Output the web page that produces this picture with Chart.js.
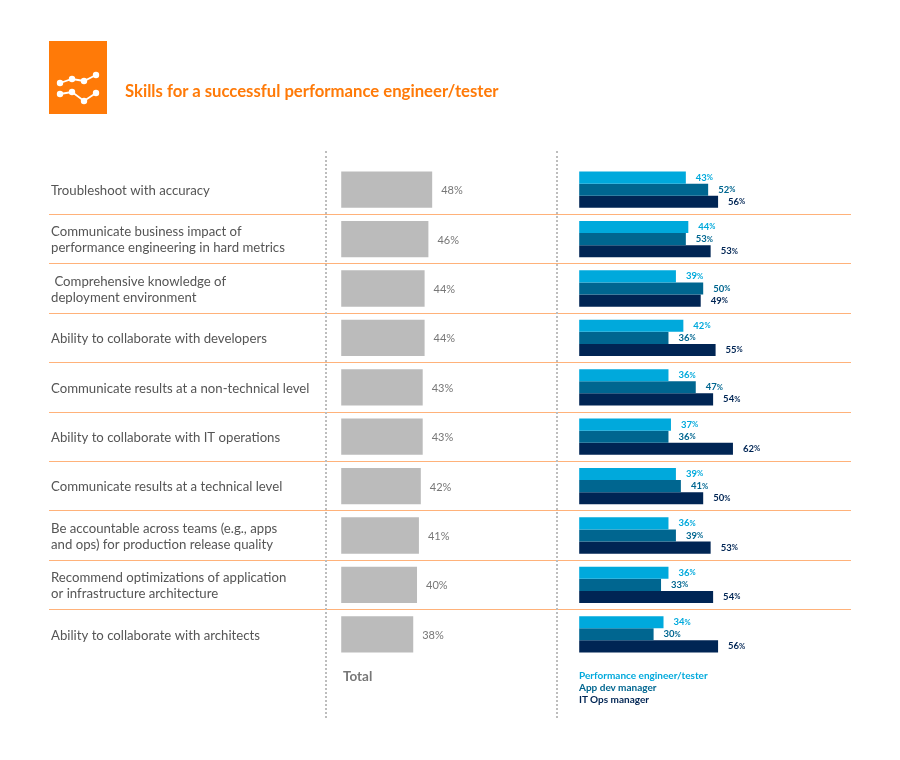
<!DOCTYPE html>
<html lang="en">
<head>
    <meta charset="UTF-8">
    <title>Skills for a successful performance engineer/tester</title>
    <script src="https://cdn.jsdelivr.net/npm/chart.js@4"></script>
    <style>
        body {
            margin: 0;
            background-color: #ffffff;
            font-family: Lato, Arial, sans-serif;
        }
        #page {
            position: relative;
            width: 900px;
            height: 760px;
            overflow: hidden;
        }
        #skillsChart {
            position: absolute;
            left: 0;
            top: 0;
        }
        #icon {
            position: absolute;
            left: 49px;
            top: 41px;
        }
        h1 {
            position: absolute;
            left: 125px;
            top: 81px;
            margin: 0;
            font-size: 16.7px;
            line-height: 20px;
            font-weight: 700;
            color: #ff7a08;
            white-space: nowrap;
        }
        .divider {
            position: absolute;
            top: 151px;
            height: 567px;
            border-left: 2px dotted #bdbdbd;
        }
        #totalLabel {
            position: absolute;
            left: 343px;
            top: 668px;
            font-size: 13.5px;
            line-height: 16px;
            font-weight: 700;
            color: #777777;
        }
        #legend {
            position: absolute;
            left: 579px;
            top: 669px;
            font-size: 10px;
            line-height: 12px;
            font-weight: 700;
        }
    </style>
</head>
<body>
    <div id="page">
        <canvas id="skillsChart" width="900" height="760"></canvas>
        <svg id="icon" width="58" height="73" viewBox="0 0 58 73">
            <rect width="58" height="73" fill="#ff7a08"/>
            <g fill="none" stroke="#ffffff" stroke-width="1.8">
                <polyline points="11,42 23,38 35,40 47,34"/>
                <polyline points="11,53 23,51 35,60 47,52"/>
            </g>
            <g fill="#ffffff">
                <circle cx="11" cy="42" r="3.2"/><circle cx="23" cy="38" r="3.2"/>
                <circle cx="35" cy="40" r="3.2"/><circle cx="47" cy="34" r="3.2"/>
                <circle cx="11" cy="53" r="3.2"/><circle cx="23" cy="51" r="3.2"/>
                <circle cx="35" cy="60" r="3.2"/><circle cx="47" cy="52" r="3.2"/>
            </g>
        </svg>
        <h1>Skills for a successful performance engineer/tester</h1>
        <div class="divider" style="left: 325px;"></div>
        <div class="divider" style="left: 556px;"></div>
        <div id="totalLabel">Total</div>
        <div id="legend">
            <div style="color: #00a9dc;">Performance engineer/tester</div>
            <div style="color: #006690;">App dev manager</div>
            <div style="color: #002554;">IT Ops manager</div>
        </div>
    </div>

    <script>
const skills = [
    'Troubleshoot with accuracy',
    ['Communicate business impact of', 'performance engineering in hard metrics'],
    [' Comprehensive knowledge of', 'deployment environment'],
    'Ability to collaborate with developers',
    'Communicate results at a non-technical level',
    'Ability to collaborate with IT operations',
    'Communicate results at a technical level',
    ['Be accountable across teams (e.g., apps', 'and ops) for production release quality'],
    ['Recommend optimizations of application', 'or infrastructure architecture'],
    'Ability to collaborate with architects'
];
const totalValues = [48, 46, 44, 44, 43, 43, 42, 41, 40, 38];
const perfTesterValues = [43, 44, 39, 42, 36, 37, 39, 36, 36, 34];
// second row: the bar is drawn at 43 but printed as 53 in the source picture
const appDevValues = [52, 43, 50, 36, 47, 36, 41, 39, 33, 30];
const appDevPrinted = [52, 53, 50, 36, 47, 36, 41, 39, 33, 30];
const itOpsValues = [56, 53, 49, 55, 54, 62, 50, 53, 54, 56];

// Draws the value next to the end of every bar
const barLabels = {
    id: 'barLabels',
    afterDatasetsDraw(chart) {
        const ctx = chart.ctx;
        ctx.save();
        ctx.textBaseline = 'middle';
        chart.data.datasets.forEach((dataset, d) => {
            const printed = dataset.printed || dataset.data;
            chart.getDatasetMeta(d).data.forEach((bar, i) => {
                const x = bar.x + dataset.labelGap;
                ctx.fillStyle = dataset.labelColor;
                if (dataset.xAxisID === 'xTotal') {
                    ctx.font = '400 11px Lato';
                    ctx.fillText(printed[i] + '%', x, bar.y + 1);
                } else {
                    ctx.font = '700 9.5px Lato';
                    ctx.fillText(printed[i], x, bar.y);
                    const w = ctx.measureText(printed[i]).width;
                    ctx.font = '700 7.5px Lato';
                    ctx.fillText('%', x + w, bar.y);
                }
            });
        });
        ctx.restore();
    }
};

new Chart(document.getElementById('skillsChart'), {
    type: 'bar',
    plugins: [barLabels],
    data: {
        labels: skills,
        datasets: [
            {
                label: 'Total',
                data: totalValues,
                xAxisID: 'xTotal',
                grouped: false,
                backgroundColor: '#bbbbbb',
                labelColor: '#777777',
                labelGap: 9
            },
            {
                label: 'Performance engineer/tester',
                data: perfTesterValues,
                xAxisID: 'xSplit',
                backgroundColor: '#00a9dc',
                labelColor: '#00a9dc',
                labelGap: 10
            },
            {
                label: 'App dev manager',
                data: appDevValues,
                printed: appDevPrinted,
                xAxisID: 'xSplit',
                backgroundColor: '#006690',
                labelColor: '#006690',
                labelGap: 10
            },
            {
                label: 'IT Ops manager',
                data: itOpsValues,
                xAxisID: 'xSplit',
                backgroundColor: '#002554',
                labelColor: '#002554',
                labelGap: 10
            }
        ]
    },
    options: {
        indexAxis: 'y',
        responsive: false,
        animation: false,
        devicePixelRatio: 1,
        categoryPercentage: 0.735,
        barPercentage: 1,
        layout: { padding: { left: 45, right: 49, top: 165, bottom: 101 } },
        plugins: {
            legend: { display: false },
            tooltip: { enabled: false }
        },
        scales: {
            // Both value axes share the plot width, the ranges put each zero under its column
            xTotal: { axis: 'x', type: 'linear', display: false, min: -154.2, max: 269 },
            xSplit: { axis: 'x', type: 'linear', display: false, min: -213.8, max: 109.6 },
            y: {
                border: { display: false },
                grid: {
                    drawTicks: false,
                    lineWidth: 1,
                    // no line above the first row or below the last one
                    color: c => (c.type !== 'tick' || c.index === 0) ? 'transparent' : '#ffb27a'
                },
                ticks: {
                    mirror: true,
                    padding: 2,
                    labelOffset: 1,
                    autoSkip: false,
                    color: '#555555',
                    font: { family: 'Lato', size: 13.2, lineHeight: 1.23 }
                }
            }
        }
    }
});
    </script>
</body>
</html>
